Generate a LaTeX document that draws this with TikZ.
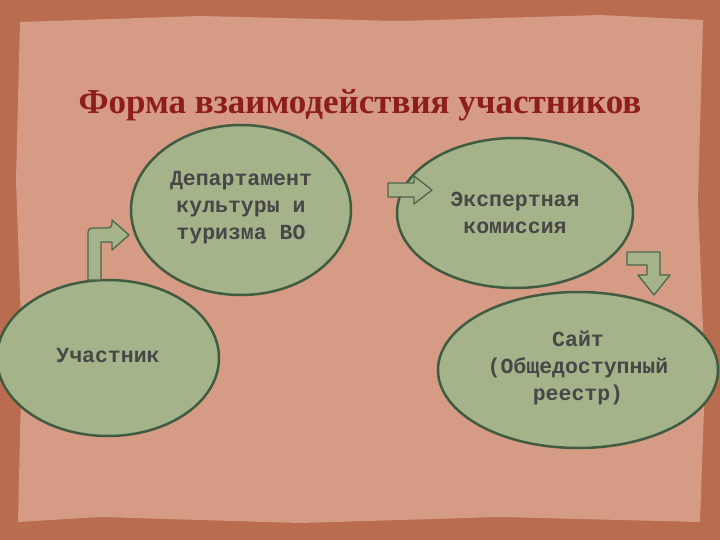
\documentclass[tikz,border=0pt]{standalone}
\usepackage{fontspec}
\setmainfont{Liberation Serif}
\newfontfamily\monof{Liberation Mono}
\begin{document}
\begin{tikzpicture}[x=1pt,y=-1pt,
  txt/.style={align=center,font=\monof\bfseries\fontsize{21.5}{27}\selectfont,text=black!72},
  barrow/.style={draw=green!15!black!70,line width=1.3pt,fill=sage,line join=round}]
\definecolor{sage}{HTML}{A4B389}
\definecolor{frame}{HTML}{B96C4E}
\definecolor{parch}{HTML}{D59B84}
\definecolor{ttl}{HTML}{8E1E1A}
\useasboundingbox (0,0) rectangle (720,540);
\fill[frame] (0,0) rectangle (720,540);
\fill[parch] (20,22) -- (200,16) -- (400,21) -- (600,15) -- (703,20) -- (698,200) -- (705,380) -- (700,522) -- (500,517) -- (300,523) -- (100,517) -- (18,522) -- (22,350) -- (16,180) -- cycle;
\node[text=ttl,font=\fontsize{35}{38}\selectfont\bfseries] (title) at (360,105) {Форма взаимодействия участников};
\draw[draw=green!15!black!75,line width=2.5pt,fill=sage] (241,210) ellipse [x radius=110,y radius=85];
\node[txt] (dep) at (241,208) {Департамент\\культуры и\\туризма ВО};
\draw[draw=green!15!black!75,line width=2.5pt,fill=sage] (515,213) ellipse [x radius=118,y radius=75];
\node[txt] (exp) at (515,213) {Экспертная\\комиссия};
\draw[draw=green!15!black!75,line width=2.5pt,fill=sage] (108,358) ellipse [x radius=111,y radius=78];
\node[txt] (uch) at (108,356) {Участник};
\draw[draw=green!15!black!75,line width=2.5pt,fill=sage] (578,370) ellipse [x radius=140,y radius=78];
\node[txt] (site) at (578,368) {Сайт\\(Общедоступный\\реестр)};
\draw[barrow] (388,183) -- (414,183) -- (414,176) -- (432,190) -- (414,204) -- (414,197) -- (388,197) -- cycle;
\draw[barrow] (88,280) -- (88,234) [rounded corners=4pt] -- (88,228) -- (112,228) [sharp corners] -- (112,220) -- (129,235) -- (112,250) -- (112,242) -- (101,242) -- (101,280) -- cycle;
\draw[barrow] (627,252) -- (660,252) -- (660,275) -- (670,275) -- (654,295) -- (638,275) -- (647,275) -- (647,265) -- (627,265) -- cycle;
\end{tikzpicture}
\end{document}
